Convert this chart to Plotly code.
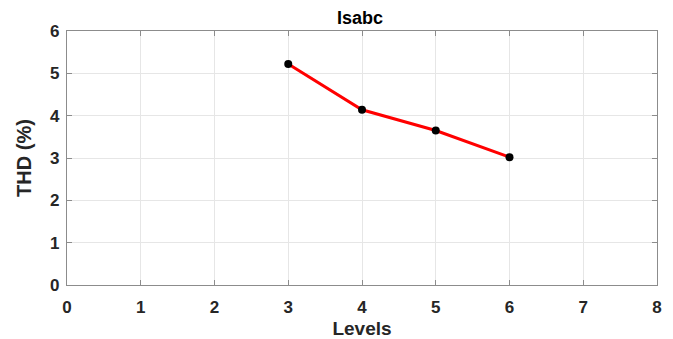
import plotly.graph_objects as go

# THD of the stator current versus number of inverter levels
levels = [3, 4, 5, 6]
thd_percent = [5.22, 4.14, 3.65, 3.02]
x_ticks = [0, 1, 2, 3, 4, 5, 6, 7, 8]
y_ticks = [0, 1, 2, 3, 4, 5, 6]

font_family = "Liberation Sans, Arial, sans-serif"

fig = go.Figure()
fig.add_trace(go.Scatter(
    x=levels, y=thd_percent,
    mode="lines+markers",
    line=dict(color="#ff0000", width=3),
    marker=dict(color="#000000", size=8),
    showlegend=False,
))

axis_common = dict(
    showline=True, linecolor="#8c8c8c", linewidth=1.2, mirror="ticks",
    ticks="inside", ticklen=5, tickcolor="#8c8c8c",
    showgrid=True, gridcolor="#e6e6e6", gridwidth=1,
    zeroline=False, automargin=False,
    tickfont=dict(family=font_family, size=17, color="#262626", weight="bold"),
)

fig.update_layout(
    width=673, height=339,
    margin=dict(l=67, r=16, t=31, b=54),
    paper_bgcolor="white", plot_bgcolor="white",
    title=dict(text="Isabc", x=0.535, xanchor="center", y=0.948, yanchor="middle",
               font=dict(family=font_family, size=18, color="#000000", weight="bold")),
    xaxis=dict(range=[0, 8], tickvals=x_ticks, ticklabelstandoff=6, title=dict(
        text="Levels", standoff=10,
        font=dict(family=font_family, size=19, color="#262626", weight="bold")), **axis_common),
    yaxis=dict(range=[0, 6], tickvals=y_ticks, ticklabelstandoff=3, title=dict(
        text="THD (%)", standoff=13,
        font=dict(family=font_family, size=20, color="#262626", weight="bold")), **axis_common),
)

fig.write_html("out.html")
